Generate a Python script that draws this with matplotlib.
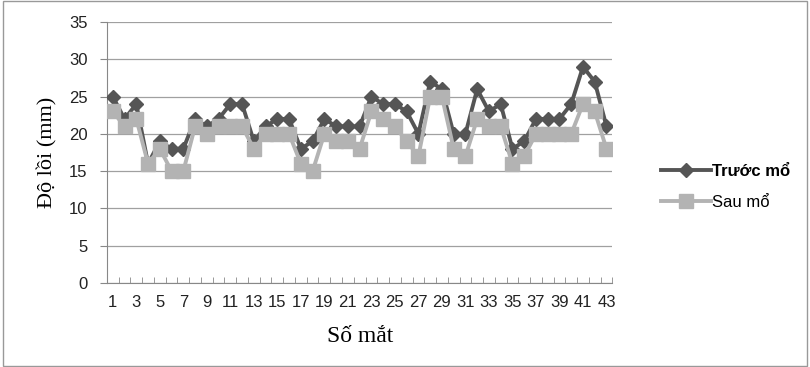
import matplotlib
matplotlib.use('Agg')
import matplotlib.pyplot as plt
from matplotlib.patches import Rectangle

# số liệu
mat = list(range(1, 44))
truoc_mo = [25, 22, 24, 16, 19, 18, 18, 22, 21, 22, 24, 24, 19, 21, 22, 22, 18, 19, 22, 21, 21, 21,
            25, 24, 24, 23, 20, 27, 26, 20, 20, 26, 23, 24, 18, 19, 22, 22, 22, 24, 29, 27, 21]
sau_mo = [23, 21, 22, 16, 18, 15, 15, 21, 20, 21, 21, 21, 18, 20, 20, 20, 16, 15, 20, 19, 19, 18,
          23, 22, 21, 19, 17, 25, 25, 18, 17, 22, 21, 21, 16, 17, 20, 20, 20, 20, 24, 23, 18]
y_ticks = [0, 5, 10, 15, 20, 25, 30, 35]

plt.rcParams.update({
    'font.family': ['Liberation Sans', 'DejaVu Sans'],
    'font.size': 12,
})

fig = plt.figure(figsize=(8.1, 3.67), dpi=100)
ax = fig.add_axes([0.132, 0.229, 0.624, 0.711])

ax.plot(mat, truoc_mo, '-D', color='#555555', lw=2.8, ms=7.5, label='Trước mổ', zorder=3)
ax.plot(mat, sau_mo, '-s', color='#b3b3b3', lw=2.8, ms=10.5, label='Sau mổ', zorder=4)

ax.set_xlim(0.5, 43.5)
ax.set_ylim(0, 35)
ax.set_yticks(y_ticks)
ax.set_xticks(mat[::2])
ax.set_xticks([m + 0.5 for m in range(0, 44)], minor=True)
ax.tick_params(axis='x', which='major', length=0, pad=9, colors='#222222')
ax.tick_params(axis='x', which='minor', length=4, color='#888888', direction='in')
ax.tick_params(axis='y', length=5, color='#888888', colors='#222222', pad=9)
ax.grid(axis='y', color='#a0a0a0', lw=0.9)
ax.set_axisbelow(True)
for s in ['top', 'right']:
    ax.spines[s].set_visible(False)
ax.spines['left'].set_color('#888888')
ax.spines['bottom'].set_color('#888888')

ax.set_ylabel('Độ lồi (mm)', family=['Liberation Serif', 'DejaVu Serif'], fontsize=16, labelpad=8)
ax.set_xlabel('Số mắt', family=['Liberation Serif', 'DejaVu Serif'], fontsize=17, labelpad=11)

leg = fig.legend(loc='center left', bbox_to_anchor=(0.797, 0.49), frameon=False,
                 handlelength=3.0, labelspacing=0.95, handletextpad=0.1, fontsize=12)
leg.get_texts()[0].set_fontweight('bold')

fig.add_artist(Rectangle((0.004, 0.004), 0.992, 0.992, transform=fig.transFigure,
                         fill=False, edgecolor='#999999', lw=1))

fig.savefig('out.png', dpi=100)
